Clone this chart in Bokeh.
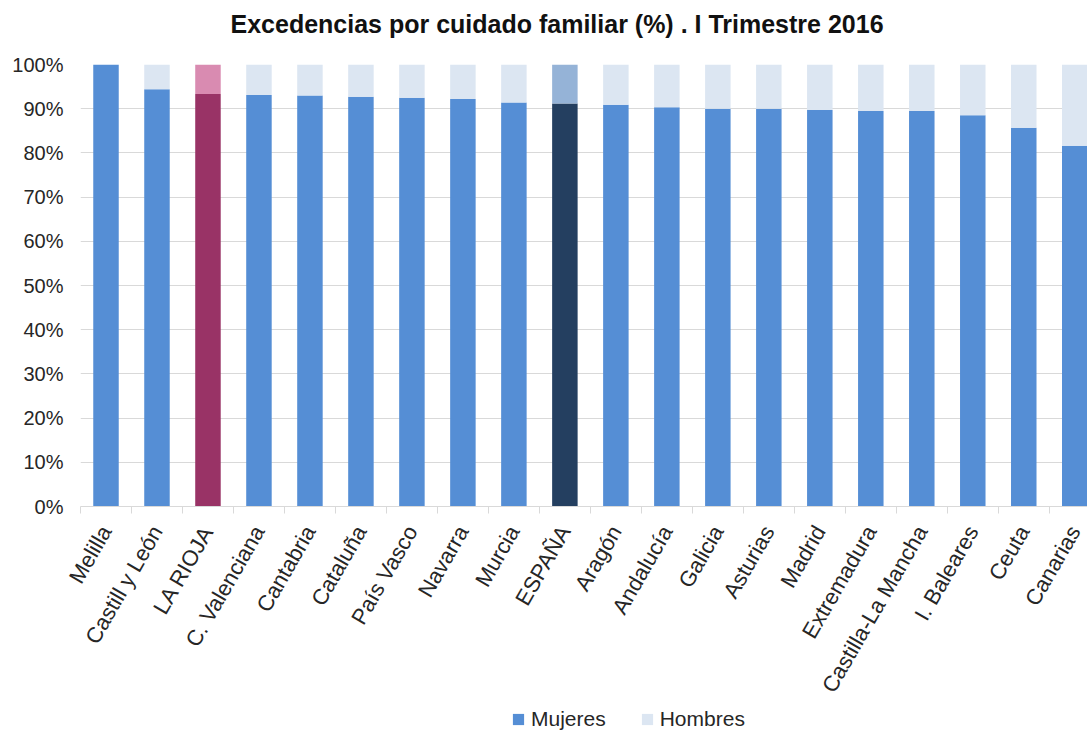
import math
from bokeh.plotting import figure
from bokeh.layouts import column
from bokeh.models import (ColumnDataSource, Range1d, FixedTicker, PrintfTickFormatter,
                          Legend, LegendItem, Title)
from bokeh.embed import file_html
from bokeh.resources import INLINE

# ---- data ----
regiones = ["Melilla", "Castill y León", "LA RIOJA", "C. Valenciana", "Cantabria",
            "Cataluña", "País Vasco", "Navarra", "Murcia", "ESPAÑA", "Aragón",
            "Andalucía", "Galicia", "Asturias", "Madrid", "Extremadura",
            "Castilla-La Mancha", "I. Baleares", "Ceuta", "Canarias"]
mujeres = [100.0, 94.4, 93.3, 93.1, 93.0, 92.7, 92.5, 92.2, 91.4, 91.2, 90.9,
           90.3, 90.0, 90.0, 89.7, 89.5, 89.5, 88.5, 85.7, 81.6]
hombres = [round(100 - m, 1) for m in mujeres]
y_ticks = [0, 10, 20, 30, 40, 50, 60, 70, 80, 90, 100]
titulo = "Excedencias por cuidado familiar (%) . I Trimestre 2016"

# ---- styles ----
COL_M = "#558ED5"
COL_H = "#DCE6F2"
special = {"LA RIOJA": ("#993366", "#D98BB1"), "ESPAÑA": ("#243F60", "#95B3D7")}
FONT = "Liberation Sans"
TXT = "#262626"
GRID = "#D9D9D9"

n = len(regiones)
xs = list(range(n))
col_m = [special.get(r, (COL_M, COL_H))[0] for r in regiones]
col_h = [special.get(r, (COL_M, COL_H))[1] for r in regiones]
top_h = [m + h for m, h in zip(mujeres, hombres)]

src = ColumnDataSource(dict(x=xs, region=regiones, m=mujeres, h=hombres,
                            top_m=mujeres, top_h=top_h, col_m=col_m, col_h=col_h))

p = figure(width=1087, height=706, output_backend="svg", toolbar_location=None,
           x_range=Range1d(-0.5, 19.25), y_range=Range1d(0, 100),
           min_border_left=80, min_border_right=0, min_border_top=64,
           min_border_bottom=199, title=titulo)
p.outline_line_color = None
p.background_fill_color = "white"
p.border_fill_color = "white"

p.title.align = "left"
p.title.offset = 150
p.title.text_font = FONT
p.title.text_font_style = "bold"
p.title.text_font_size = "25px"
p.title.text_color = "#111111"
p.title.vertical_align = "top"
p.title.standoff = 16

# empty spacer between title and chart area
p.add_layout(Title(text=" ", text_font_size="10px", standoff=4), "above")

p.vbar(x="x", bottom=0, top="top_m", width=0.5, source=src,
       fill_color="col_m", line_color=None)
p.vbar(x="x", bottom="top_m", top="top_h", width=0.5, source=src,
       fill_color="col_h", line_color=None)

# x axis
p.xaxis.ticker = FixedTicker(ticks=xs, minor_ticks=[i - 0.5 for i in range(n + 1)])
p.xaxis.major_label_overrides = {i: r for i, r in enumerate(regiones)}
p.xaxis.major_label_orientation = math.pi / 3
p.xaxis.major_label_text_font = FONT
p.xaxis.major_label_text_font_size = "22px"
p.xaxis.major_label_text_color = TXT
p.xaxis.major_tick_line_color = None
p.xaxis.major_tick_out = 0
p.xaxis.minor_tick_line_color = GRID
p.xaxis.minor_tick_in = 0
p.xaxis.minor_tick_out = 7
p.xaxis.axis_line_color = GRID
p.xaxis.major_label_standoff = 14

# y axis
p.yaxis.ticker = FixedTicker(ticks=y_ticks)
p.yaxis.formatter = PrintfTickFormatter(format="%d%%")
p.yaxis.axis_line_color = None
p.yaxis.major_tick_line_color = None
p.yaxis.major_tick_out = 0
p.yaxis.minor_tick_line_color = None
p.yaxis.major_label_text_font = FONT
p.yaxis.major_label_text_font_size = "20px"
p.yaxis.major_label_text_color = TXT
p.yaxis.major_label_standoff = 17

p.xgrid.grid_line_color = None
p.ygrid.grid_line_color = GRID
p.ygrid.ticker = FixedTicker(ticks=y_ticks)

# ---- legend strip under the chart ----
lf = figure(width=1087, height=25, output_backend="svg", toolbar_location=None,
            x_range=Range1d(-200, -199), y_range=Range1d(0, 1),
            x_axis_type=None, y_axis_type=None, min_border=0)
lf.outline_line_color = None
lf.xgrid.grid_line_color = None
lf.ygrid.grid_line_color = None
lm = lf.vbar(x="x", bottom=0, top="top_m", width=0.5, source=src,
             fill_color="col_m", line_color=None)
lh = lf.vbar(x="x", bottom="top_m", top="top_h", width=0.5, source=src,
             fill_color="col_h", line_color=None)
legend = Legend(items=[LegendItem(label="Mujeres", renderers=[lm], index=0),
                       LegendItem(label="Hombres", renderers=[lh], index=0)],
                orientation="horizontal", location=(431, 0),
                glyph_width=14, glyph_height=14, label_text_font=FONT,
                label_text_font_size="21px", label_text_color=TXT,
                spacing=34, padding=0, margin=0, label_standoff=6, label_height=20,
                border_line_color=None, background_fill_alpha=0)
lf.add_layout(legend, "center")

layout = column(p, lf, spacing=0)
open("out.html", "w").write(file_html(layout, INLINE))
